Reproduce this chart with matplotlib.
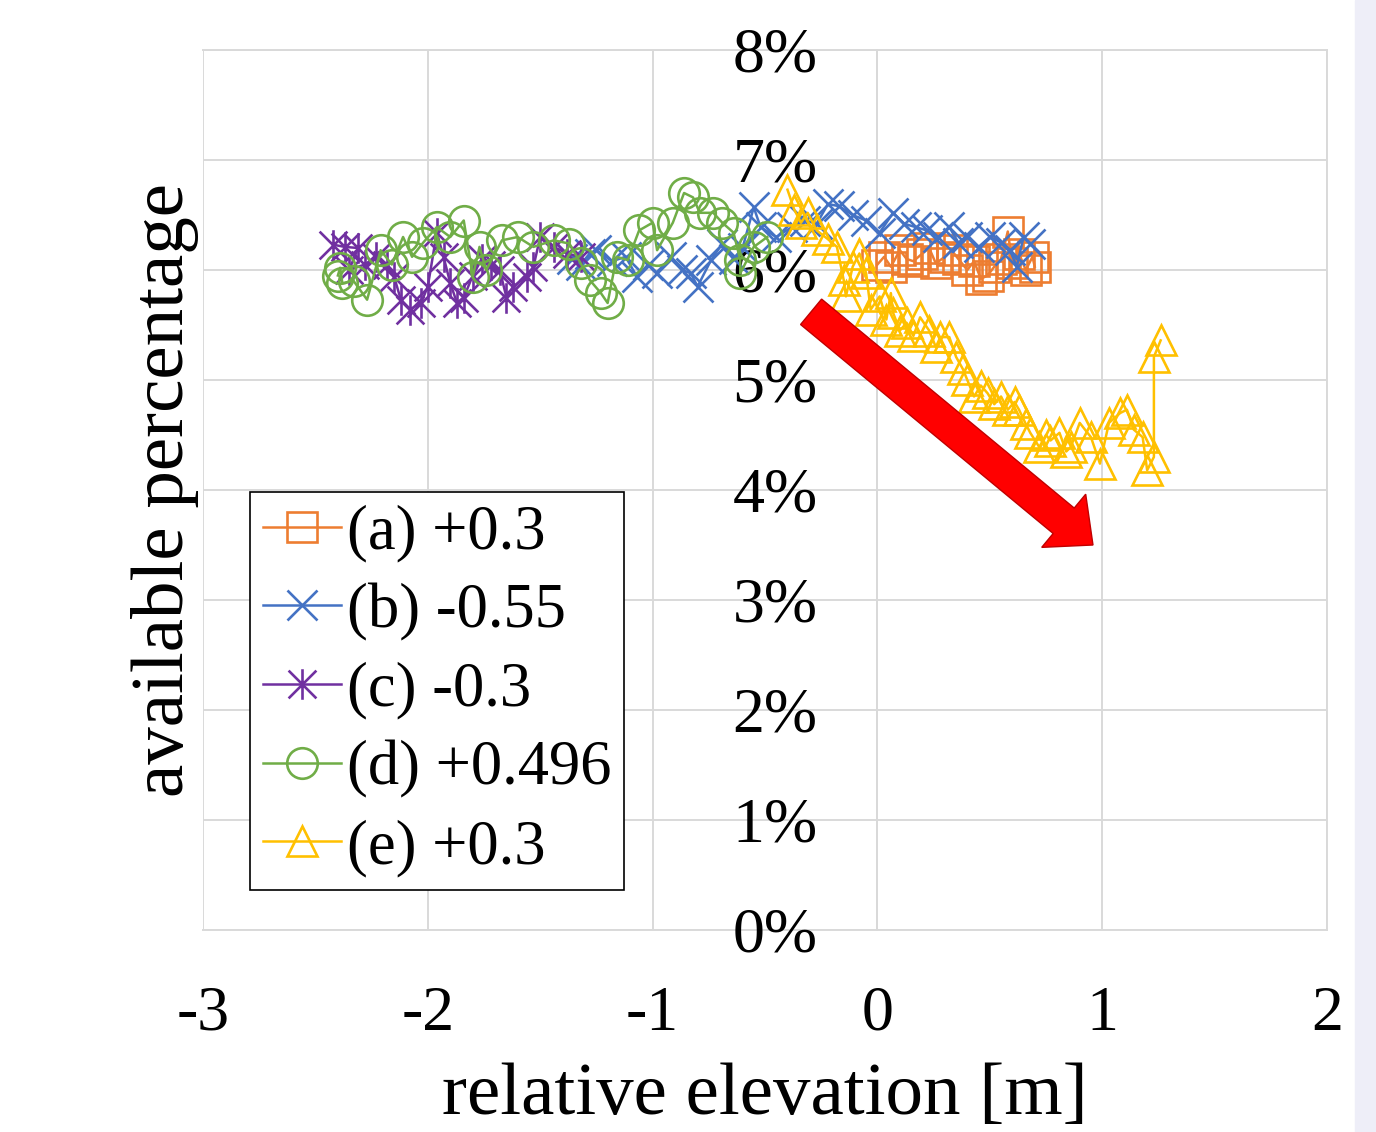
import numpy as np
import matplotlib
matplotlib.use('Agg')
import matplotlib.pyplot as plt
from matplotlib.path import Path
from matplotlib.patches import FancyArrow, Rectangle
from matplotlib.transforms import IdentityTransform
from matplotlib.ticker import PercentFormatter

plt.rcParams['font.family'] = ['Liberation Serif', 'DejaVu Serif']
plt.rcParams['axes.unicode_minus'] = False

# (a) +0.3
a_x = [0.00, 0.03, 0.06, 0.10, 0.13, 0.16, 0.20, 0.23, 0.26, 0.30, 0.33, 0.36,
       0.40, 0.43, 0.46, 0.49, 0.52, 0.55, 0.58, 0.60, 0.63, 0.66, 0.69, 0.70]
a_y = [6.05, 6.12, 6.03, 6.18, 6.10, 6.08, 6.15, 6.20, 6.06, 6.12, 6.18, 6.10,
       6.00, 6.08, 5.92, 5.95, 6.03, 6.10, 6.35, 6.06, 6.15, 6.00, 6.12, 6.03]

# (b) -0.55
b_x = [-1.36, -1.32, -1.28, -1.25, -1.18, -1.12, -1.07, -1.02, -0.98, -0.92, -0.87,
       -0.83, -0.80, -0.74, -0.69, -0.64, -0.60, -0.55, -0.52, -0.45, -0.38, -0.32,
       -0.27, -0.22, -0.17, -0.11, -0.05, 0.01, 0.07, 0.12, 0.17, 0.22, 0.27, 0.32,
       0.36, 0.40, 0.45, 0.50, 0.55, 0.59, 0.62, 0.65, 0.68]
b_y = [6.10, 6.05, 6.15, 6.18, 6.08, 6.12, 5.94, 6.05, 5.97, 6.12, 6.00,
       5.97, 5.85, 6.09, 6.24, 6.10, 6.20, 6.57, 6.39, 6.30, 6.39, 6.45,
       6.42, 6.60, 6.58, 6.50, 6.45, 6.34, 6.52, 6.42, 6.39, 6.36, 6.30, 6.39,
       6.25, 6.30, 6.21, 6.30, 6.25, 6.18, 6.03, 6.30, 6.24]

# (c) -0.3
c_x = [-2.42, -2.37, -2.31, -2.35, -2.28, -2.23, -2.18, -2.15, -2.12, -2.08, -2.03,
       -2.00, -1.96, -1.93, -1.90, -1.87, -1.84, -1.80, -1.76, -1.72, -1.68, -1.65,
       -1.62, -1.56, -1.53, -1.50, -1.44, -1.38, -1.32]
c_y = [6.23, 6.21, 6.20, 6.00, 6.05, 6.12, 6.05, 5.94, 5.73, 5.64, 5.70,
       5.85, 6.34, 6.12, 5.88, 5.70, 5.75, 5.95, 6.10, 6.05, 6.00, 5.75,
       5.85, 5.94, 6.03, 6.30, 6.21, 6.15, 6.12]

# (d) +0.496
d_x = [-2.40, -2.39, -2.38, -2.33, -2.27, -2.21, -2.16, -2.11, -2.07, -2.02, -1.96,
       -1.90, -1.84, -1.80, -1.77, -1.74, -1.67, -1.60, -1.53, -1.44, -1.37, -1.32,
       -1.28, -1.23, -1.20, -1.16, -1.11, -1.06, -1.00, -0.98, -0.91, -0.86, -0.82,
       -0.79, -0.73, -0.69, -0.64, -0.61, -0.61, -0.55, -0.49]
d_y = [5.95, 6.02, 5.88, 5.90, 5.73, 6.18, 6.05, 6.30, 6.12, 6.25, 6.39,
       6.30, 6.45, 5.94, 6.21, 6.00, 6.27, 6.30, 6.21, 6.27, 6.24, 6.06,
       5.91, 5.79, 5.70, 6.12, 6.09, 6.36, 6.43, 6.18, 6.43, 6.70, 6.66,
       6.52, 6.52, 6.43, 6.34, 6.09, 5.97, 6.21, 6.30]

# (e) +0.3
e_x = [-0.40, -0.37, -0.34, -0.31, -0.27, -0.22, -0.18, -0.15, -0.14, -0.11, -0.08,
       -0.05, -0.03, 0.01, 0.04, 0.06, 0.07, 0.10, 0.13, 0.16, 0.19, 0.23, 0.26,
       0.28, 0.32, 0.35, 0.38, 0.40, 0.43, 0.46, 0.49, 0.52, 0.55, 0.58, 0.61,
       0.63, 0.66, 0.68, 0.72, 0.75, 0.77, 0.81, 0.84, 0.86, 0.90, 0.95, 0.99,
       1.03, 1.08, 1.11, 1.14, 1.18, 1.20, 1.23, 1.23, 1.26]
e_y = [6.73, 6.55, 6.43, 6.52, 6.36, 6.28, 6.21, 5.91, 5.76, 6.03, 6.15,
       5.97, 5.64, 5.76, 5.55, 5.79, 5.61, 5.45, 5.52, 5.40, 5.57, 5.45, 5.30,
       5.39, 5.39, 5.21, 5.10, 5.00, 4.85, 4.95, 4.88, 4.78, 4.85, 4.73, 4.80,
       4.73, 4.60, 4.52, 4.39, 4.50, 4.45, 4.52, 4.35, 4.39, 4.61, 4.48, 4.24,
       4.61, 4.70, 4.73, 4.55, 4.48, 4.18, 4.30, 5.21, 5.36]

series_x = [a_x, b_x, c_x, d_x, e_x]
series_y = [a_y, b_y, c_y, d_y, e_y]
labels = ['(a) +0.3', '(b) -0.55', '(c) -0.3', '(d) +0.496', '(e) +0.3']
colors = ['#ED7D31', '#4472C4', '#7030A0', '#70AD47', '#FFC000']

# excel style asterisk marker
star = Path([(-1, -1), (1, 1), (-1, 1), (1, -1), (0, -1.1), (0, 1.1)],
            [Path.MOVETO, Path.LINETO] * 3)
markers = ['s', 'x', star, 'o', '^']

# red trend arrow (data coords)
arrow_tail = (-0.295, 5.62)
arrow_tip = (0.959, 3.50)

fig = plt.figure(figsize=(13.76, 11.32), dpi=100)
ax = fig.add_axes([203/1376, 1-930/1132, 1124/1376, 880/1132])

for xs, ys, lab, c, m in zip(series_x, series_y, labels, colors, markers):
    ax.plot(xs, ys, color=c, lw=1.8, marker=m, ms=22, mfc='none', mec=c,
            mew=1.9, label=lab)

ax.set_xlim(-3, 2)
ax.set_ylim(0, 8)
ax.set_xticks(range(-3, 3))
ax.set_yticks(range(0, 9))
ax.yaxis.set_major_formatter(PercentFormatter(xmax=100, decimals=0))
ax.spines['left'].set_position(('data', 0))
for s in ax.spines.values():
    s.set_color('#D9D9D9')
    s.set_linewidth(1.4)
    s.set_zorder(0.5)
ax.grid(True, color='#D9D9D9', lw=1.4)
ax.set_axisbelow(True)
ax.tick_params(axis='both', length=0, labelsize=46)
ax.tick_params(axis='y', pad=43)
ax.tick_params(axis='x', pad=40)

ax.set_xlabel('relative elevation [m]', fontsize=54)
ax.set_ylabel('available percentage', fontsize=54)
ax.xaxis.set_label_coords(0.5, -0.151)
ax.yaxis.set_label_coords(-0.004, 0.5)

leg = ax.legend(loc='upper left', bbox_to_anchor=(250/1376, 1-492/1132),
                bbox_transform=fig.transFigure, fontsize=45, frameon=True,
                fancybox=False, edgecolor='black', framealpha=1, borderaxespad=0,
                borderpad=0.2, handlelength=1.25, handletextpad=0.1,
                labelspacing=0.33)
leg.get_frame().set_linewidth(1.2)

p0 = ax.transData.transform(arrow_tail)
p1 = ax.transData.transform(arrow_tip)
arr = FancyArrow(p0[0], p0[1], p1[0]-p0[0], p1[1]-p0[1], width=33,
                 head_width=69, head_length=38, length_includes_head=True,
                 transform=IdentityTransform(), fc='#FF0000', ec='#C00000', lw=1)
fig.add_artist(arr)

fig.add_artist(Rectangle((1355/1376, 0), 21/1376, 1, transform=fig.transFigure,
                         color='#EEEEF8', zorder=0))

fig.savefig('out.png', dpi=100)
